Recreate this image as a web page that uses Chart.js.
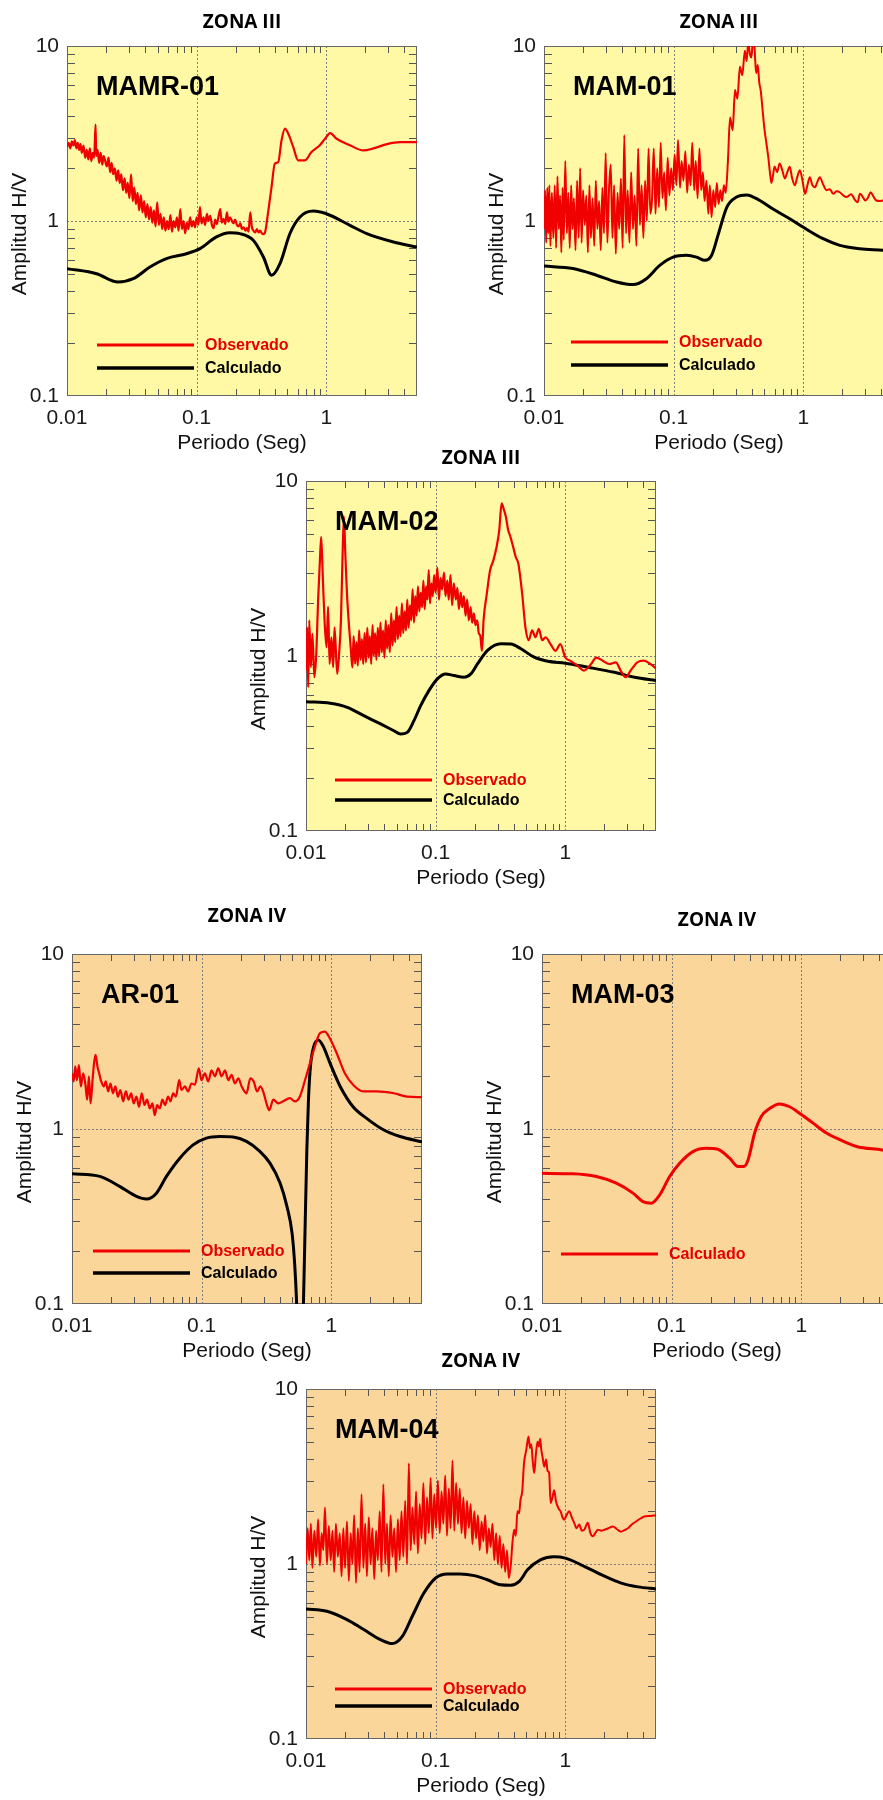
<!DOCTYPE html>
<html>
<head>
<meta charset="utf-8">
<script src="https://cdn.jsdelivr.net/npm/chart.js@4.4.0/dist/chart.umd.min.js"></script>
<style>
  html, body { margin: 0; padding: 0; background: #fff; width: 883px; height: 1800px; overflow: hidden; }
  .panel { position: absolute; }
</style>
</head>
<body>
<div class="panel" id="p1"><canvas id="c1" width="427" height="472"></canvas></div>
<div class="panel" id="p2"><canvas id="c2" width="427" height="472"></canvas></div>
<div class="panel" id="p3"><canvas id="c3" width="427" height="472"></canvas></div>
<div class="panel" id="p4"><canvas id="c4" width="427" height="472"></canvas></div>
<div class="panel" id="p5"><canvas id="c5" width="427" height="472"></canvas></div>
<div class="panel" id="p6"><canvas id="c6" width="427" height="472"></canvas></div>
<script>
// axis ticks
const PERIOD_TICKS = [0.01, 0.1, 1];
const AMP_TICKS = [0.1, 1, 10];
const PERIOD_GRID = [0.1, 1];
const AMP_GRID = [1];
const PERIOD_MINOR = [0.02, 0.03, 0.04, 0.05, 0.06, 0.07, 0.08, 0.09, 0.2, 0.3, 0.4, 0.5, 0.6, 0.7, 0.8, 0.9, 2, 3, 4];
const AMP_MINOR = [0.2, 0.3, 0.4, 0.5, 0.6, 0.7, 0.8, 0.9, 2, 3, 4, 5, 6, 7, 8, 9];

// MAMR-01
const mamr01ObsX = [0.01, 0.0103, 0.0106, 0.0109, 0.0112, 0.0115, 0.0118, 0.0121, 0.0124, 0.0127,
  0.013, 0.0134, 0.0138, 0.0142, 0.0146, 0.015, 0.0154, 0.0158, 0.0162, 0.0166,
  0.0168, 0.0172, 0.0177, 0.0182, 0.0187, 0.0192, 0.0197, 0.0203, 0.0209, 0.0215,
  0.0221, 0.0227, 0.0234, 0.0241, 0.0248, 0.0255, 0.0262, 0.027, 0.0278, 0.0286,
  0.0294, 0.0303, 0.0312, 0.0321, 0.033, 0.034, 0.035, 0.036, 0.0371, 0.0382,
  0.0393, 0.0405, 0.0417, 0.0429, 0.0442, 0.0455, 0.0468, 0.0482, 0.0496, 0.0511,
  0.0526, 0.0542, 0.0558, 0.0574, 0.0591, 0.0609, 0.0627, 0.0645, 0.0664, 0.0684,
  0.0704, 0.0725, 0.0747, 0.0769, 0.0792, 0.0815, 0.0839, 0.0864, 0.089, 0.0916,
  0.0943, 0.0971, 0.1, 0.103, 0.106, 0.109, 0.113, 0.116, 0.12, 0.123,
  0.127, 0.131, 0.135, 0.139, 0.143, 0.147, 0.152, 0.156, 0.161, 0.166,
  0.171, 0.176, 0.181, 0.187, 0.192, 0.198, 0.204, 0.21, 0.217, 0.223,
  0.23, 0.237, 0.244, 0.251, 0.259, 0.266, 0.274, 0.283, 0.291, 0.3,
  0.309, 0.318, 0.328, 0.338, 0.348,
  0.3777, 0.4008, 0.4254, 0.4511, 0.4795, 0.5081, 0.5549, 0.6064, 0.683, 0.768, 0.89, 0.976, 1.07, 1.2, 1.52, 1.93, 2.31, 2.94, 3.71, 5.0];
const mamr01ObsY = [2.65, 2.8, 2.6, 2.85, 2.7, 2.9, 2.6, 2.8, 2.55, 2.75,
  2.45, 2.7, 2.3, 2.55, 2.25, 2.6, 2.2, 2.45, 2.3, 3.55,
  2.35, 2.55, 2.15, 2.45, 2.1, 2.35, 2.2, 2.05, 2.3, 1.9,
  2.15, 1.85, 2.0, 1.7, 1.95, 1.65, 1.85, 1.5, 1.75, 1.45,
  1.65, 1.35, 1.85, 1.3, 1.55, 1.25, 1.45, 1.15, 1.4, 1.12,
  1.3, 1.05, 1.25, 1.02, 1.2, 0.98, 1.15, 0.93, 1.28, 0.95,
  1.1, 0.9, 1.05, 0.88, 1.0, 0.9, 1.08, 0.87, 1.0, 0.92,
  1.05, 0.88, 1.17, 0.9, 1.0, 0.85, 0.98, 0.9, 1.05, 0.93,
  1.0, 0.92, 1.05, 0.95, 1.2, 0.97, 1.05, 0.95, 1.1, 1.0,
  1.07, 0.95, 0.91, 1.02, 0.96, 1.05, 1.17, 0.98, 1.03, 0.96,
  1.12, 0.99, 1.05, 1.0, 0.97, 1.02, 0.95, 0.93, 0.97, 0.9,
  0.92, 0.88, 0.91, 0.87, 1.12, 0.93, 0.88, 0.86, 0.9, 0.86,
  0.88, 0.85, 0.84, 0.87, 1.0,
  1.56, 2.13, 2.17, 2.89, 3.37, 3.16, 2.65, 2.22, 2.22, 2.48, 2.71, 2.95, 3.18, 2.95, 2.71, 2.53, 2.6, 2.75, 2.82, 2.82];
const mamr01CalX = [0.01, 0.0169, 0.0248, 0.0324, 0.0436, 0.0585, 0.0834, 0.106, 0.142, 0.18, 0.215, 0.273, 0.327, 0.378, 0.439, 0.524, 0.626, 0.794, 1.0, 1.52, 2.05, 3.29, 5.0];
const mamr01CalY = [0.534, 0.5, 0.448, 0.468, 0.546, 0.61, 0.65, 0.695, 0.811, 0.857, 0.847, 0.776, 0.623, 0.49, 0.571, 0.848, 1.054, 1.14, 1.1, 0.945, 0.847, 0.759, 0.71];

// MAM-01
const mam01ObsX = [0.01, 0.0102, 0.0104, 0.0106, 0.0108, 0.011, 0.0112, 0.0115, 0.0118, 0.0121, 0.0124, 0.0127, 0.013, 0.0133, 0.0136, 0.0139, 0.0142, 0.0146, 0.015, 0.0154, 0.0158, 0.0162, 0.0166, 0.017, 0.0175, 0.018, 0.0185, 0.019, 0.0195, 0.02, 0.0206, 0.0212, 0.0218, 0.0224, 0.023, 0.0237, 0.0244, 0.0251, 0.0258, 0.0266, 0.0274, 0.0282, 0.029, 0.0299, 0.0308, 0.0317, 0.0327, 0.0337, 0.0347, 0.0358, 0.0369, 0.038, 0.0392, 0.0404, 0.0416, 0.0429, 0.0442, 0.0456, 0.047, 0.0485, 0.05, 0.0516, 0.0532, 0.0549, 0.0566, 0.0584, 0.0602, 0.0621, 0.064, 0.066,
  0.068, 0.0702, 0.0724, 0.0746, 0.077, 0.0794, 0.0819, 0.0845, 0.0871, 0.0899, 0.0927, 0.0956, 0.0986, 0.1017, 0.105, 0.108, 0.112, 0.115, 0.119, 0.123, 0.127, 0.131, 0.135, 0.139, 0.144, 0.148, 0.153, 0.158, 0.163, 0.168, 0.173, 0.179, 0.185, 0.19, 0.196, 0.202, 0.209, 0.215, 0.222, 0.229, 0.236, 0.244, 0.252,
  0.262, 0.272, 0.285, 0.297, 0.31, 0.324, 0.338, 0.354, 0.365, 0.376, 0.387, 0.397, 0.408, 0.42, 0.432, 0.445, 0.457, 0.47, 0.485, 0.5, 0.518, 0.537, 0.552, 0.567, 0.585, 0.6, 0.628, 0.656, 0.688, 0.72, 0.752, 0.785, 0.82, 0.86, 0.9, 0.94, 0.985, 1.03, 1.075, 1.12, 1.175, 1.23, 1.285, 1.34, 1.42, 1.51, 1.6, 1.7, 1.8, 1.91, 2.03, 2.15, 2.33, 2.52, 2.62, 2.73, 2.86, 3.0, 3.15, 3.3, 3.47, 3.65, 3.9, 4.12, 4.5, 5.0];
const mam01ObsY = [0.9, 1.5, 0.75, 1.55, 0.85, 1.6, 0.72, 1.45, 0.8, 1.6, 0.7, 1.8, 0.9, 1.4, 0.66, 1.55, 0.78, 2.2, 0.85, 1.45, 0.7, 1.6, 0.9, 1.35, 0.68, 1.7, 0.8, 2.0, 0.75, 1.5, 0.95, 1.4, 0.66, 1.6, 0.8, 1.35, 0.72, 1.7, 0.9, 1.3, 0.68, 1.55, 0.85, 2.45, 0.75, 1.5, 2.1, 0.8, 1.6, 0.65, 1.45, 0.9, 1.75, 0.7, 3.1, 0.85, 1.5, 0.75, 1.9, 0.9, 1.4, 0.72, 2.6, 0.95, 1.6, 0.8, 1.7, 1.0, 2.6, 1.1,
  1.3, 2.6, 1.1, 2.0, 1.2, 2.8, 1.35, 1.9, 1.15, 2.3, 1.4, 2.0, 1.5, 2.4, 1.6, 2.9, 1.55, 2.2, 1.7, 2.5, 1.45, 2.1, 1.6, 2.8, 1.5, 2.2, 1.35, 2.6, 1.5, 1.9, 1.3, 1.7, 1.1, 1.6, 1.05, 1.5, 1.2, 1.65, 1.25, 1.5, 1.3, 1.6, 1.45,
  2.2, 3.9, 3.3, 5.6, 5.0, 7.6, 6.8, 9.4, 8.2, 10.5, 9.0, 8.6, 10.5, 9.8, 7.0, 7.8, 6.2, 5.5, 4.3, 3.4, 2.8, 2.3, 1.9, 1.65, 1.85, 2.05, 1.9, 2.13, 1.95, 1.75, 1.9, 2.04, 1.75, 1.6, 1.8, 1.95, 1.7, 1.43, 1.6, 1.78, 1.6, 1.56, 1.68, 1.78, 1.62, 1.5, 1.52, 1.43, 1.48, 1.46, 1.4, 1.37, 1.42, 1.31, 1.28, 1.43, 1.38, 1.31, 1.36, 1.46, 1.38, 1.31, 1.3, 1.31, 1.3, 1.3];
const mam01CalX = [0.01, 0.0167, 0.0254, 0.0362, 0.0486, 0.0616, 0.0781, 0.099, 0.1254, 0.15, 0.1739, 0.1963, 0.2216, 0.2567, 0.306, 0.3654, 0.4621, 0.5838, 0.7849, 1.0, 1.42, 1.91, 2.73, 4.12, 5.0];
const mam01CalY = [0.553, 0.535, 0.49, 0.448, 0.433, 0.468, 0.558, 0.622, 0.637, 0.622, 0.596, 0.637, 0.847, 1.197, 1.37, 1.41, 1.31, 1.17, 1.03, 0.92, 0.792, 0.726, 0.695, 0.68, 0.67];

// MAM-02
const mam02ObsX = [0.01, 0.0102, 0.0104, 0.0106, 0.0109, 0.0112, 0.0116, 0.012, 0.0124, 0.0128, 0.0131, 0.0135, 0.0139, 0.0144, 0.0148, 0.0152, 0.0157, 0.0162, 0.0166, 0.0174, 0.018, 0.0186, 0.0191, 0.0196, 0.0201, 0.0207, 0.0215,
  0.0223, 0.0228, 0.0233, 0.0239, 0.0245, 0.0251, 0.0257, 0.0263, 0.027, 0.0276,
  0.0283, 0.029, 0.0297, 0.0304, 0.0311, 0.0318, 0.0326, 0.0333, 0.0341, 0.0349,
  0.0358, 0.0366, 0.0375, 0.0384, 0.0393, 0.0403, 0.0412, 0.0422, 0.0432, 0.0443,
  0.0454, 0.0465, 0.0476, 0.0487, 0.0499, 0.0511, 0.0523, 0.0536, 0.0549, 0.0562,
  0.0576, 0.059, 0.0604, 0.0618, 0.0633, 0.0648, 0.0664, 0.068, 0.0696, 0.0713,
  0.073, 0.0748, 0.0766, 0.0785, 0.0804, 0.0823, 0.0843, 0.0863, 0.0884, 0.0904,
  0.0926, 0.0949, 0.0972, 0.1, 0.103, 0.106, 0.109, 0.112, 0.116, 0.119,
  0.123, 0.126, 0.13, 0.134, 0.138, 0.143, 0.147, 0.151, 0.156, 0.16,
  0.165, 0.17, 0.175, 0.18, 0.186, 0.191, 0.197, 0.203, 0.209, 0.215,
  0.221, 0.2273,
  0.234, 0.248, 0.2628, 0.2785, 0.2951, 0.3093, 0.3223, 0.3358, 0.3477, 0.3623, 0.3774, 0.3953, 0.4142, 0.434, 0.4644, 0.492, 0.5222, 0.5542, 0.5883, 0.6244, 0.6628, 0.7035, 0.7679, 0.8382, 0.9148, 0.999, 1.09, 1.24, 1.39, 1.58, 1.73, 1.94, 2.18, 2.45, 2.67, 2.92, 3.19, 3.59, 4.03, 4.53, 5.0];
const mam02ObsY = [0.826, 1.46, 0.662, 1.6, 0.863, 1.34, 0.756, 1.03, 2.08, 3.52, 4.79, 2.71, 1.6, 1.12, 1.91, 0.9, 1.28, 0.863, 1.46, 0.79, 1.03, 1.6, 3.52, 6.25, 3.85, 2.27, 1.46,
  1.03, 0.86, 1.3, 0.9, 1.2, 0.88, 1.4, 0.95, 1.25, 0.9,
  1.35, 0.92, 1.45, 0.98, 1.3, 0.9, 1.5, 1.0, 1.35, 0.95,
  1.45, 1.0, 1.55, 1.05, 1.4, 0.98, 1.6, 1.1, 1.5, 1.05,
  1.75, 1.15, 1.6, 1.2, 1.9, 1.25, 1.7, 1.3, 2.0, 1.35,
  1.8, 1.4, 2.1, 1.45, 1.95, 1.6, 2.4, 1.55, 2.2, 1.7,
  2.5, 1.8, 2.3, 1.9, 2.7, 1.85, 2.5, 2.1, 3.1, 2.0,
  2.6, 2.2, 2.9, 2.3, 3.2, 2.1, 2.8, 2.4, 3.0, 2.2,
  2.7, 2.1, 2.9, 1.95, 2.6, 2.1, 2.45, 1.85, 2.3, 1.9,
  2.2, 1.7, 2.1, 1.6, 1.9, 1.55, 1.75, 1.5, 1.6, 1.35,
  1.3, 1.07,
  1.6, 2.27, 3.09, 3.52, 4.21, 5.24, 7.45, 6.85, 6.25, 5.24, 4.79, 4.21, 3.68, 3.37, 2.27, 1.46, 1.23, 1.4, 1.28, 1.43, 1.23, 1.28, 1.17, 1.07, 1.17, 0.98, 0.94, 0.88, 0.826, 0.9, 0.98, 0.94, 0.9, 0.92, 0.826, 0.756, 0.826, 0.92, 0.94, 0.9, 0.85];
const mam02CalX = [0.01, 0.0154, 0.0208, 0.0279, 0.0376, 0.0476, 0.0536, 0.0604, 0.068, 0.0766, 0.0887, 0.103, 0.1194, 0.1387, 0.1657, 0.1866, 0.21, 0.251, 0.318, 0.38, 0.454, 0.575, 0.73, 1.0, 1.49, 2.39, 3.42, 5.0];
const mam02CalY = [0.548, 0.537, 0.509, 0.456, 0.409, 0.374, 0.358, 0.366, 0.427, 0.52, 0.634, 0.74, 0.79, 0.773, 0.756, 0.79, 0.901, 1.077, 1.175, 1.17, 1.1, 0.984, 0.933, 0.91, 0.863, 0.807, 0.756, 0.724];

// AR-01
const ar01ObsX = [0.01, 0.0103, 0.0106, 0.0109, 0.0113, 0.0117, 0.0122, 0.0127, 0.0131, 0.0135, 0.0139, 0.0144, 0.0148, 0.0152, 0.0157, 0.0162, 0.0168, 0.0176, 0.0182, 0.019, 0.0198, 0.0207, 0.0216, 0.0226, 0.0236, 0.0248, 0.026, 0.0273, 0.0286, 0.0299, 0.0314, 0.0329, 0.0345, 0.0362, 0.0379, 0.0398, 0.0417, 0.0435, 0.0453, 0.0475, 0.0498, 0.0522, 0.0551, 0.0574, 0.0603, 0.0633, 0.0671, 0.0699, 0.0742, 0.0786, 0.0834, 0.0885, 0.0951, 0.0997, 0.1059, 0.1123, 0.1192, 0.1264, 0.1342, 0.1424, 0.1512, 0.1604, 0.1702, 0.1806, 0.1917, 0.2034, 0.2216, 0.2374, 0.2518, 0.2672, 0.2836, 0.301, 0.3159, 0.332, 0.3566, 0.3893, 0.4251, 0.4782, 0.5227, 0.571, 0.626, 0.684, 0.7468, 0.8154, 0.8903, 0.9722, 1.1, 1.27, 1.47, 1.76, 2.24, 3.03, 3.85, 5.0];
const ar01ObsY = [2.08, 1.87, 2.28, 1.9, 2.32, 1.75, 2.08, 1.79, 1.47, 2.0, 1.4, 1.9, 2.38, 2.65, 2.28, 2.08, 1.87, 1.75, 1.87, 1.64, 1.82, 1.6, 1.75, 1.53, 1.67, 1.44, 1.64, 1.47, 1.6, 1.4, 1.53, 1.34, 1.6, 1.37, 1.47, 1.31, 1.4, 1.2, 1.37, 1.31, 1.47, 1.37, 1.53, 1.44, 1.6, 1.53, 1.9, 1.67, 1.75, 1.64, 1.82, 1.79, 2.22, 1.9, 2.08, 1.87, 2.16, 2.0, 2.22, 2.0, 2.16, 1.9, 2.04, 1.82, 1.95, 1.75, 1.6, 1.95, 1.87, 1.64, 1.75, 1.6, 1.4, 1.28, 1.47, 1.4, 1.44, 1.5, 1.44, 1.53, 1.9, 2.38, 2.96, 3.52, 3.6, 3.3, 2.71, 2.08, 1.79, 1.64, 1.64, 1.6, 1.53, 1.52];
const ar01CalX = [0.01, 0.0164, 0.0233, 0.0314, 0.0375, 0.0448, 0.0535, 0.0678, 0.0859, 0.1088, 0.1379, 0.1748, 0.2216, 0.2808, 0.3361, 0.4023, 0.4543, 0.4977, 0.5227, 0.54, 0.575, 0.609, 0.626, 0.647, 0.666, 0.69, 0.731, 0.794, 0.867, 0.976, 1.17, 1.47, 1.87, 2.52, 3.39, 5.0];
const ar01CalY = [0.555, 0.536, 0.47, 0.412, 0.398, 0.43, 0.536, 0.681, 0.812, 0.887, 0.906, 0.9, 0.849, 0.745, 0.638, 0.491, 0.361, 0.254, 0.164, 0.1, 0.02, 0.1, 0.254, 0.76, 1.47, 2.28, 2.96, 3.23, 2.96, 2.38, 1.75, 1.34, 1.15, 0.99, 0.906, 0.845];

// MAM-03
const mam03CalX = [0.01, 0.0173, 0.0263, 0.0374, 0.0503, 0.06, 0.0697, 0.0808, 0.0965, 0.1152, 0.1459, 0.1846, 0.2267, 0.28, 0.3249, 0.3589, 0.3882, 0.4363, 0.4908, 0.5687, 0.6794, 0.8112, 1.0, 1.23, 1.56, 1.98, 2.66, 4.2, 5.0];
const mam03CalY = [0.558, 0.555, 0.535, 0.49, 0.43, 0.385, 0.377, 0.42, 0.535, 0.637, 0.743, 0.776, 0.766, 0.681, 0.61, 0.61, 0.665, 0.949, 1.18, 1.31, 1.39, 1.34, 1.21, 1.08, 0.949, 0.869, 0.795, 0.759, 0.74];

// MAM-04
const mam04ObsX = [0.01, 0.0103, 0.0106, 0.0109, 0.0112, 0.0116, 0.012, 0.0124, 0.0128, 0.0132, 0.0136, 0.014, 0.0145, 0.015, 0.0155, 0.016, 0.0165, 0.017, 0.0176, 0.0182, 0.0188, 0.0194, 0.02, 0.0207, 0.0214, 0.0221, 0.0228, 0.0235, 0.0243, 0.0251, 0.0259, 0.0268, 0.0277, 0.0286, 0.0295, 0.0305, 0.0315, 0.0325, 0.0336, 0.0347, 0.0358, 0.037, 0.0382, 0.0395, 0.0408, 0.0421, 0.0435, 0.0449, 0.0464, 0.0479, 0.0495,
  0.0511, 0.0528, 0.0545, 0.0563, 0.0582, 0.0601, 0.0621, 0.0641, 0.0662, 0.0684, 0.0706, 0.0729, 0.0753, 0.0778, 0.0804, 0.083, 0.0857, 0.0885, 0.0914, 0.0944, 0.0975, 0.1007, 0.104, 0.1074, 0.111, 0.1146, 0.1184, 0.1222, 0.1263, 0.1304, 0.1347, 0.1391, 0.1437, 0.1484,
  0.1533, 0.1583, 0.1635, 0.1689, 0.1744, 0.1801, 0.186, 0.1921, 0.1984, 0.2049, 0.2117, 0.2186, 0.2258, 0.2332, 0.2408, 0.2487, 0.2569, 0.2653, 0.274, 0.283, 0.2923, 0.3019, 0.3118, 0.322, 0.3326, 0.3435, 0.3548, 0.3664,
  0.38, 0.39, 0.403, 0.415, 0.427, 0.44, 0.451, 0.465, 0.48, 0.5, 0.52, 0.533, 0.546, 0.56, 0.575, 0.592, 0.61, 0.625, 0.639, 0.652, 0.666, 0.688, 0.71, 0.73, 0.75, 0.77, 0.795, 0.82, 0.845, 0.87, 0.895, 0.92, 0.95, 0.98, 1.02, 1.07, 1.12, 1.17, 1.22, 1.28, 1.34, 1.4, 1.49, 1.56, 1.63, 1.7, 1.78, 1.89, 2.0, 2.15, 2.33, 2.5, 2.69, 2.85, 3.04, 3.25, 3.51, 3.8, 4.06, 4.5, 5.0];
const mam04ObsY = [1.0, 1.6, 1.05, 1.7, 0.95, 1.55, 1.1, 1.8, 0.98, 1.5, 1.2, 2.1, 1.0, 1.65, 1.05, 1.55, 0.9, 1.7, 1.1, 1.5, 0.85, 1.6, 0.95, 1.75, 0.8, 1.5, 1.0, 1.9, 0.78, 1.6, 0.9, 2.5, 0.95, 1.7, 0.85, 1.85, 1.0, 1.6, 0.82, 1.55, 1.05, 2.0, 0.9, 2.86, 1.0, 1.7, 0.85, 1.9, 1.1, 1.6, 0.9,
  1.8, 1.05, 2.0, 1.1, 2.3, 1.0, 3.77, 1.2, 2.1, 1.3, 2.6, 1.15, 2.2, 1.4, 2.9, 1.3, 2.4, 1.5, 3.1, 1.4, 2.5, 1.6, 3.0, 1.5, 2.6, 1.7, 3.2, 1.45, 2.7, 1.6, 3.9, 1.55, 2.9, 1.7,
  2.7, 1.5, 2.4, 1.4, 2.3, 1.6, 2.2, 1.3, 2.0, 1.4, 1.9, 1.2, 1.75, 1.35, 1.9, 1.15, 1.6, 1.25, 1.7, 1.05, 1.5, 1.0, 1.45, 0.95, 1.3, 0.9, 1.2, 0.83,
  1.0, 1.3, 1.57, 1.45, 2.0, 1.95, 2.33, 2.6, 3.77, 4.5, 5.36, 4.6, 4.84, 3.9, 3.31, 4.2, 5.0, 4.7, 5.2, 4.5, 4.12, 3.6, 3.95, 3.4, 3.31, 2.23, 2.4, 2.64, 2.3, 2.14, 2.05, 2.0, 1.85, 1.79, 1.9, 2.0, 1.85, 1.72, 1.6, 1.68, 1.55, 1.57, 1.72, 1.5, 1.44, 1.5, 1.57, 1.55, 1.57, 1.6, 1.64, 1.58, 1.53, 1.56, 1.6, 1.68, 1.75, 1.82, 1.87, 1.88, 1.9];
const mam04CalX = [0.01, 0.0145, 0.0207, 0.0279, 0.0375, 0.0462, 0.0553, 0.066, 0.0811, 0.1, 0.1231, 0.1555, 0.1983, 0.2499, 0.3149, 0.3788, 0.4413, 0.5126, 0.6467, 0.8151, 1.0, 1.32, 1.89, 2.7, 3.63, 5.0];
const mam04CalY = [0.553, 0.537, 0.481, 0.422, 0.37, 0.351, 0.386, 0.503, 0.682, 0.832, 0.877, 0.877, 0.858, 0.813, 0.761, 0.756, 0.795, 0.929, 1.06, 1.1, 1.08, 0.99, 0.869, 0.778, 0.74, 0.72];

const RED = '#f00000';
const BLACK = '#000000';
const YELLOW = '#fff9a6';
const ORANGE = '#fad69b';
const FONT = "'Liberation Sans', Arial, sans-serif";

const MARGIN = { left: 67, top: 60, right: 10, bottom: 62 };

const PANELS = [
  { canvas: 'c1', plotLeft: 67, plotTop: 46, zone: 'ZONA III', station: 'MAMR-01', bg: YELLOW, zoneGap: 23,
    legend: { x: 30, y: 299, gap: 23 },
    series: [
      { label: 'Observado', color: RED, width: 2.2, xs: mamr01ObsX, ys: mamr01ObsY },
      { label: 'Calculado', color: BLACK, width: 3, xs: mamr01CalX, ys: mamr01CalY }
    ] },
  { canvas: 'c2', plotLeft: 544, plotTop: 46, zone: 'ZONA III', station: 'MAM-01', bg: YELLOW, zoneGap: 23,
    legend: { x: 27, y: 296, gap: 23 },
    series: [
      { label: 'Observado', color: RED, width: 2, xs: mam01ObsX, ys: mam01ObsY },
      { label: 'Calculado', color: BLACK, width: 3, xs: mam01CalX, ys: mam01CalY }
    ] },
  { canvas: 'c3', plotLeft: 306, plotTop: 481, zone: 'ZONA III', station: 'MAM-02', bg: YELLOW, zoneGap: 22,
    legend: { x: 29, y: 299, gap: 20 },
    series: [
      { label: 'Observado', color: RED, width: 2.2, xs: mam02ObsX, ys: mam02ObsY },
      { label: 'Calculado', color: BLACK, width: 3, xs: mam02CalX, ys: mam02CalY }
    ] },
  { canvas: 'c4', plotLeft: 72, plotTop: 954, zone: 'ZONA IV', station: 'AR-01', bg: ORANGE, zoneGap: 37,
    legend: { x: 21, y: 297, gap: 22 },
    series: [
      { label: 'Observado', color: RED, width: 2.2, xs: ar01ObsX, ys: ar01ObsY },
      { label: 'Calculado', color: BLACK, width: 3, xs: ar01CalX, ys: ar01CalY }
    ] },
  { canvas: 'c5', plotLeft: 542, plotTop: 954, zone: 'ZONA IV', station: 'MAM-03', bg: ORANGE, zoneGap: 33,
    legend: { x: 19, y: 300, gap: 22 },
    series: [
      { label: 'Calculado', color: RED, width: 3, xs: mam03CalX, ys: mam03CalY }
    ] },
  { canvas: 'c6', plotLeft: 306, plotTop: 1389, zone: 'ZONA IV', station: 'MAM-04', bg: ORANGE, zoneGap: 27,
    legend: { x: 29, y: 300, gap: 17 },
    series: [
      { label: 'Observado', color: RED, width: 2, xs: mam04ObsX, ys: mam04ObsY },
      { label: 'Calculado', color: BLACK, width: 3, xs: mam04CalX, ys: mam04CalY }
    ] }
];

function seg(ctx, x1, y1, x2, y2) {
  ctx.beginPath();
  ctx.moveTo(x1, y1);
  ctx.lineTo(x2, y2);
  ctx.stroke();
}

// background, dotted grid, inner minor ticks and frame
const hvFrame = {
  id: 'hvFrame',
  beforeDatasetsDraw(chart, args, opts) {
    const { ctx, chartArea: a, scales: { x, y } } = chart;
    ctx.save();
    ctx.fillStyle = opts.bg;
    ctx.fillRect(a.left, a.top, a.right - a.left, a.bottom - a.top);

    ctx.lineWidth = 1;
    ctx.strokeStyle = '#7d7d7d';
    ctx.setLineDash([2, 2]);
    PERIOD_GRID.forEach(v => {
      const px = Math.round(x.getPixelForValue(v)) + 0.5;
      seg(ctx, px, a.top, px, a.bottom);
    });
    AMP_GRID.forEach(v => {
      const py = Math.round(y.getPixelForValue(v)) + 0.5;
      seg(ctx, a.left, py, a.right, py);
    });
    ctx.setLineDash([]);

    ctx.strokeStyle = '#555';
    PERIOD_MINOR.forEach(v => {
      const px = Math.round(x.getPixelForValue(v)) + 0.5;
      seg(ctx, px, a.bottom, px, a.bottom - 7);
      seg(ctx, px, a.top, px, a.top + 7);
    });
    AMP_MINOR.forEach(v => {
      const py = Math.round(y.getPixelForValue(v)) + 0.5;
      seg(ctx, a.left, py, a.left + 8, py);
      seg(ctx, a.right, py, a.right - 8, py);
    });

    ctx.strokeStyle = '#666';
    ctx.strokeRect(a.left + 0.5, a.top + 0.5, a.right - a.left - 1, a.bottom - a.top - 1);
    ctx.restore();
  },
  afterDatasetsDraw(chart, args, opts) {
    const { ctx, chartArea: a } = chart;
    ctx.save();
    // zone title
    ctx.fillStyle = '#000';
    ctx.textAlign = 'center';
    ctx.textBaseline = 'middle';
    ctx.font = "bold 19px 'Open Sans', sans-serif";
    ctx.fillText(opts.zone, (a.left + a.right) / 2, a.top - opts.zoneGap);

    // y axis title
    ctx.save();
    ctx.translate(a.left - 47, (a.top + a.bottom) / 2 + 13);
    ctx.rotate(-Math.PI / 2);
    ctx.font = '21px ' + FONT;
    ctx.fillStyle = '#111';
    ctx.fillText('Amplitud H/V', 0, 0);
    ctx.restore();

    // station name
    ctx.textAlign = 'left';
    ctx.font = 'bold 27px ' + FONT;
    ctx.fillStyle = '#000';
    ctx.fillText(opts.station, a.left + 29, a.top + 42);

    // legend
    ctx.font = 'bold 16px ' + FONT;
    chart.data.datasets.forEach((ds, i) => {
      const ly = a.top + opts.legend.y + i * opts.legend.gap;
      const lx = a.left + opts.legend.x;
      ctx.strokeStyle = ds.borderColor;
      ctx.lineWidth = ds.borderColor === RED ? 3 : 3.5;
      seg(ctx, lx, ly, lx + 97, ly);
      ctx.fillStyle = ds.borderColor === RED ? '#e60000' : '#000';
      ctx.fillText(ds.label, lx + 108, ly + 1);
    });
    ctx.restore();
  }
};

Chart.defaults.font.family = FONT;
Chart.defaults.color = '#1a1a1a';

PANELS.forEach(p => {
  const holder = document.getElementById(p.canvas).parentNode;
  holder.style.left = (p.plotLeft - MARGIN.left) + 'px';
  holder.style.top = (p.plotTop - MARGIN.top) + 'px';

  const datasets = p.series.map(s => ({
    label: s.label,
    data: s.xs.map((xv, i) => ({ x: xv, y: s.ys[i] })),
    borderColor: s.color,
    borderWidth: s.width,
    pointRadius: 0,
    fill: false,
    cubicInterpolationMode: 'monotone'
  }));

  new Chart(document.getElementById(p.canvas), {
    type: 'line',
    data: { datasets },
    plugins: [hvFrame],
    options: {
      responsive: false,
      animation: false,
      events: [],
      layout: { padding: { left: 0, top: MARGIN.top, right: MARGIN.right, bottom: 0 } },
      plugins: {
        legend: { display: false },
        tooltip: { enabled: false },
        hvFrame: { bg: p.bg, zone: p.zone, station: p.station, zoneGap: p.zoneGap, legend: p.legend }
      },
      scales: {
        x: {
          type: 'logarithmic',
          min: 0.01,
          max: 5,
          grid: { display: false, drawTicks: false },
          border: { display: false },
          afterBuildTicks: s => { s.ticks = PERIOD_TICKS.map(v => ({ value: v })); },
          afterFit: s => { s.height = MARGIN.bottom; },
          ticks: { autoSkip: false, maxRotation: 0, padding: 10, font: { size: 21 }, color: '#1a1a1a',
                   callback: v => String(v) },
          title: { display: true, text: 'Periodo (Seg)', font: { size: 21 }, color: '#111', padding: { top: 0, bottom: 2 } }
        },
        y: {
          type: 'logarithmic',
          min: 0.1,
          max: 10,
          grid: { display: false, drawTicks: false },
          border: { display: false },
          afterBuildTicks: s => { s.ticks = AMP_TICKS.map(v => ({ value: v })); },
          afterFit: s => { s.width = MARGIN.left; },
          ticks: { autoSkip: false, padding: 8, font: { size: 21 }, color: '#1a1a1a',
                   callback: v => String(v) }
        }
      }
    }
  });
});
</script>
</body>
</html>
